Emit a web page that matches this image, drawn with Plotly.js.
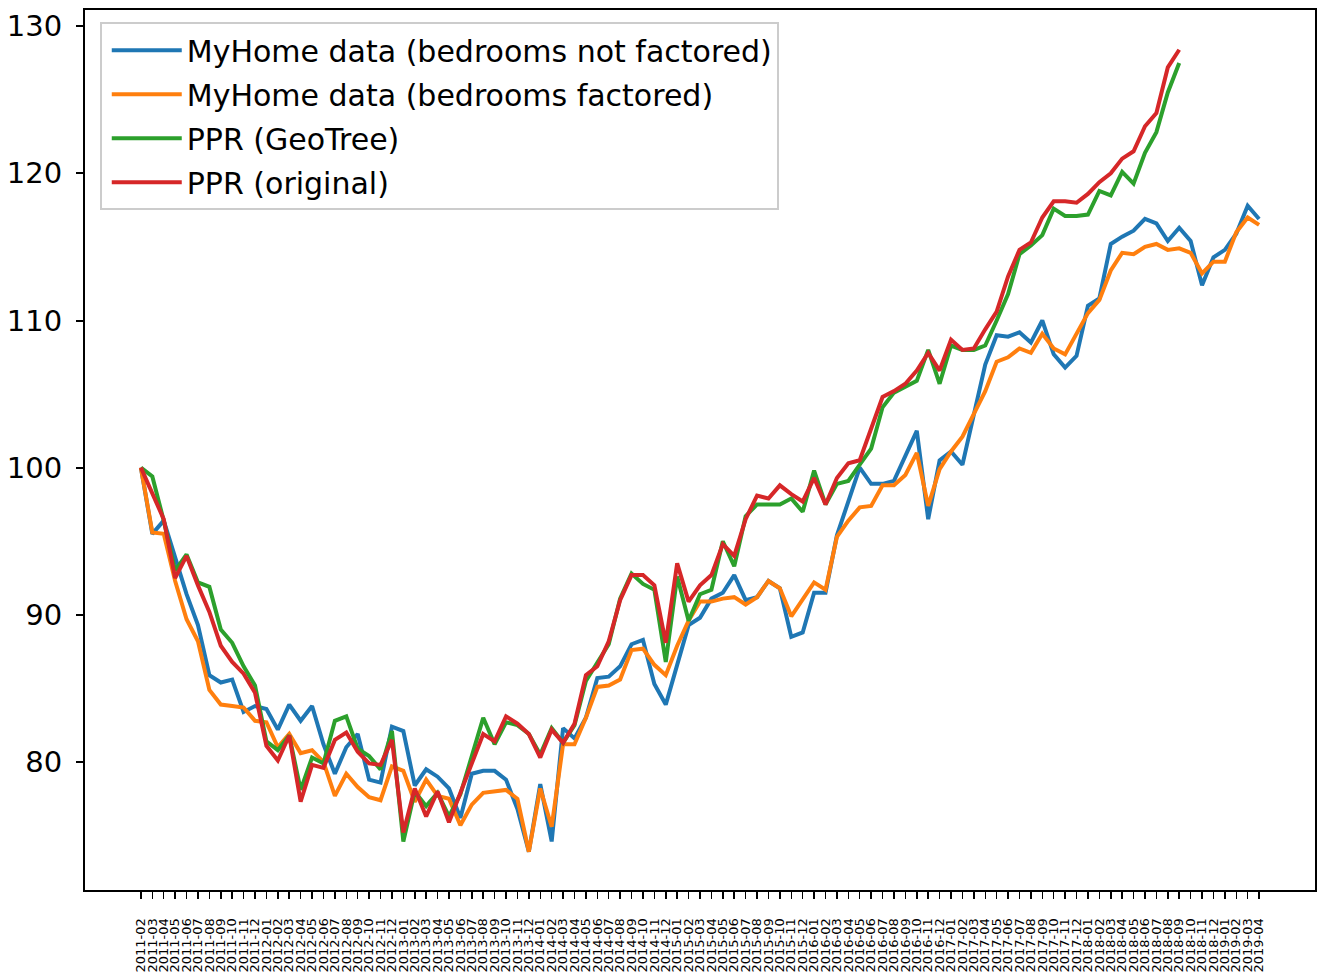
<!DOCTYPE html>
<html>
<head>
<meta charset="utf-8">
<script src="https://cdn.plot.ly/plotly-3.0.1.min.js"></script>
<style>
  html, body { margin: 0; padding: 0; background: #ffffff; }
  #chart { width: 1317px; height: 973px; }
</style>
</head>
<body>
<div id="chart"></div>
<script>
const months = [
  "2011-02","2011-03","2011-04","2011-05","2011-06","2011-07","2011-08","2011-09","2011-10","2011-11","2011-12",
  "2012-01","2012-02","2012-03","2012-04","2012-05","2012-06","2012-07","2012-08","2012-09","2012-10","2012-11","2012-12",
  "2013-01","2013-02","2013-03","2013-04","2013-05","2013-06","2013-07","2013-08","2013-09","2013-10","2013-11","2013-12",
  "2014-01","2014-02","2014-03","2014-04","2014-05","2014-06","2014-07","2014-08","2014-09","2014-10","2014-11","2014-12",
  "2015-01","2015-02","2015-03","2015-04","2015-05","2015-06","2015-07","2015-08","2015-09","2015-10","2015-11","2015-12",
  "2016-01","2016-02","2016-03","2016-04","2016-05","2016-06","2016-07","2016-08","2016-09","2016-10","2016-11","2016-12",
  "2017-01","2017-02","2017-03","2017-04","2017-05","2017-06","2017-07","2017-08","2017-09","2017-10","2017-11","2017-12",
  "2018-01","2018-02","2018-03","2018-04","2018-05","2018-06","2018-07","2018-08","2018-09","2018-10","2018-11","2018-12",
  "2019-01","2019-02","2019-03","2019-04"
];

const myhomeNotFactored = [
  100.0, 95.5, 96.4, 93.8, 91.4, 89.3, 85.9, 85.4, 85.6, 83.4, 83.8,
  83.6, 82.2, 83.9, 82.8, 83.8, 81.2, 79.2, 81.0, 81.9, 78.8, 78.6, 82.4,
  82.1, 78.4, 79.5, 79.0, 78.2, 76.2, 79.2, 79.4, 79.4, 78.8, 76.8, 73.9,
  78.5, 74.6, 82.3, 81.6, 83.0, 85.7, 85.8, 86.5, 88.0, 88.3, 85.3, 83.9,
  86.6, 89.3, 89.8, 91.1, 91.5, 92.7, 91.0, 91.2, 92.3, 91.8, 88.5, 88.8,
  91.5, 91.5, 95.4, 97.7, 100.0, 98.9, 98.9, 99.1, 100.8, 102.5, 96.5, 100.5,
  101.1, 100.2, 103.6, 107.0, 109.0, 108.9, 109.2, 108.5, 110.0, 107.7, 106.8, 107.6,
  111.0, 111.5, 115.2, 115.7, 116.1, 116.9, 116.6, 115.4, 116.3, 115.4, 112.4, 114.3,
  114.8, 115.9, 117.8, 116.9
];

const myhomeFactored = [
  100.0, 95.6, 95.5, 92.3, 89.7, 88.2, 84.9, 83.9, 83.8, 83.7, 82.8,
  82.7, 81.0, 81.9, 80.6, 80.8, 80.0, 77.7, 79.2, 78.3, 77.6, 77.4, 79.7,
  79.4, 77.3, 78.8, 77.7, 77.5, 75.7, 77.1, 77.9, 78.0, 78.1, 77.5, 73.9,
  78.2, 75.6, 81.2, 81.2, 83.0, 85.1, 85.2, 85.6, 87.6, 87.7, 86.6, 85.9,
  87.9, 89.6, 90.9, 90.9, 91.1, 91.2, 90.7, 91.2, 92.3, 91.8, 89.9, 91.1,
  92.2, 91.7, 95.3, 96.4, 97.3, 97.4, 98.8, 98.8, 99.5, 101.0, 97.4, 99.9,
  101.1, 102.1, 103.6, 105.2, 107.2, 107.5, 108.1, 107.8, 109.1, 108.1, 107.7, 109.1,
  110.5, 111.4, 113.4, 114.6, 114.5, 115.0, 115.2, 114.8, 114.9, 114.6, 113.2, 114.0,
  114.0, 116.0, 117.0, 116.5
];

const pprGeoTree = [
  100.0, 99.4, 96.4, 93.0, 94.1, 92.2, 91.9, 89.0, 88.1, 86.5, 85.2,
  81.4, 80.8, 81.8, 78.1, 80.3, 79.9, 82.8, 83.1, 80.9, 80.4, 79.5, 82.1,
  74.6, 78.0, 77.0, 77.9, 76.3, 77.8, 80.4, 83.0, 81.2, 82.7, 82.5, 81.9,
  80.5, 82.3, 81.3, 82.5, 85.5, 86.8, 88.0, 91.1, 92.8, 92.1, 91.7, 86.8,
  92.6, 89.6, 91.4, 91.7, 95.0, 93.3, 96.7, 97.5, 97.5, 97.5, 97.9, 97.0,
  99.8, 97.5, 98.9, 99.1, 100.2, 101.3, 104.1, 105.1, 105.5, 105.9, 108.0, 105.7,
  108.3, 108.0, 108.0, 108.3, 110.0, 111.8, 114.5, 115.1, 115.8, 117.6, 117.1, 117.1,
  117.2, 118.8, 118.5, 120.1, 119.3, 121.4, 122.8, 125.5, 127.5
];

const pprOriginal = [
  100.0, 98.3, 96.5, 92.5, 94.0, 92.0, 90.2, 87.9, 86.8, 86.0, 84.7,
  81.1, 80.1, 81.8, 77.3, 79.8, 79.6, 81.5, 82.0, 80.7, 79.9, 79.8, 81.5,
  75.2, 78.2, 76.3, 78.0, 75.9, 77.9, 80.0, 81.9, 81.4, 83.1, 82.6, 81.9,
  80.3, 82.2, 81.3, 82.6, 85.9, 86.5, 88.2, 91.0, 92.7, 92.7, 92.0, 88.1,
  93.5, 90.9, 92.0, 92.7, 94.8, 94.0, 96.5, 98.1, 97.9, 98.8, 98.2, 97.7,
  99.3, 97.5, 99.3, 100.3, 100.5, 102.6, 104.8, 105.2, 105.7, 106.6, 107.8, 106.6,
  108.7, 108.0, 108.1, 109.4, 110.6, 113.0, 114.8, 115.3, 117.0, 118.1, 118.1, 118.0,
  118.6, 119.4, 120.0, 121.0, 121.5, 123.2, 124.1, 127.2, 128.4
];

const seriesNames = [
  "MyHome data (bedrooms not factored)",
  "MyHome data (bedrooms factored)",
  "PPR (GeoTree)",
  "PPR (original)"
];
const seriesColors = ["#1f77b4", "#ff7f0e", "#2ca02c", "#d62728"];
const seriesValues = [myhomeNotFactored, myhomeFactored, pprGeoTree, pprOriginal];

const yTicks = [80, 90, 100, 110, 120, 130];

const traces = seriesValues.map((vals, k) => ({
  type: "scatter",
  mode: "lines",
  x: months.slice(0, vals.length),
  y: vals,
  name: seriesNames[k],
  legendgroup: "g" + k,
  line: { color: seriesColors[k], width: 4 }
}));

const FONT = "DejaVu Sans, sans-serif";

const layout = {
  width: 1317,
  height: 973,
  margin: { l: 85, r: 2, t: 10, b: 83, pad: 0 },
  paper_bgcolor: "#ffffff",
  plot_bgcolor: "#ffffff",
  font: { family: FONT, color: "#000000" },
  showlegend: true,
  legend: {
    x: 0.012, y: 0.986, xanchor: "left", yanchor: "top",
    bgcolor: "rgba(255,255,255,0.8)",
    bordercolor: "#cccccc",
    borderwidth: 2,
    font: { family: FONT, size: 30, color: "#000000" },
    tracegroupgap: 2,
    itemwidth: 70,
    indentation: 5
  },
  xaxis: {
    type: "category",
    categoryorder: "array",
    categoryarray: months,
    range: [-4.9, 102.9],
    tickmode: "array",
    tickvals: months,
    ticktext: months,
    tickangle: -90,
    tickfont: { family: FONT, size: 13, color: "#000000" },
    ticks: "outside",
    ticklen: 7,
    tickwidth: 1.5,
    tickcolor: "#000000",
    ticklabelstandoff: 14,
    showline: true,
    linecolor: "#000000",
    linewidth: 2,
    mirror: true,
    showgrid: false,
    zeroline: false,
    automargin: false
  },
  yaxis: {
    range: [71.3, 131.1],
    tickmode: "array",
    tickvals: yTicks,
    ticktext: yTicks.map(String),
    tickfont: { family: FONT, size: 29, color: "#000000" },
    ticks: "outside",
    ticklen: 7,
    tickwidth: 2,
    tickcolor: "#000000",
    ticklabelstandoff: 8,
    showline: true,
    linecolor: "#000000",
    linewidth: 2,
    mirror: true,
    showgrid: false,
    zeroline: false,
    automargin: false
  }
};

Plotly.newPlot("chart", traces, layout, { displayModeBar: false, staticPlot: true });
</script>
</body>
</html>
